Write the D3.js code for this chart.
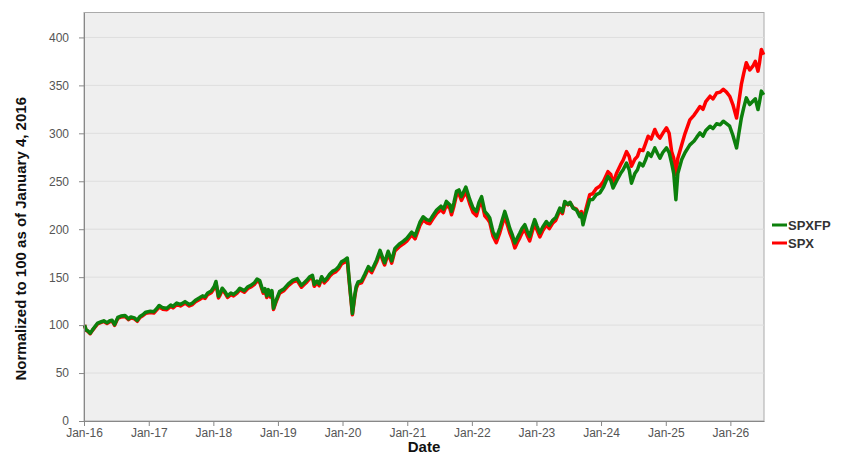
<!DOCTYPE html>
<html>
<head>
<meta charset="utf-8">
<script src="https://cdn.jsdelivr.net/npm/d3@7"></script>
<style>
    body { margin: 0; background: #fff; font-family: "Liberation Sans", Arial, sans-serif; }
    .axis text { font-size: 12px; fill: #555; font-family: "Liberation Sans", Arial, sans-serif; }
    .axis path, .axis line { stroke: #888; }
</style>
</head>
<body>
<div class="chart-wrapper"></div>
<script>
// dates (roughly every 2-4 weeks, plus turning points)
const dates = [
    "2016-01-04","2016-01-13","2016-01-22","2016-02-05","2016-02-18","2016-03-01","2016-03-18","2016-04-08","2016-04-22","2016-05-10",
    "2016-05-26","2016-06-08","2016-06-22","2016-07-10","2016-07-28","2016-08-20","2016-09-09","2016-09-22","2016-10-12","2016-10-28",
    "2016-11-12","2016-11-30","2016-12-15","2017-01-10","2017-01-30","2017-02-14","2017-03-01","2017-03-22","2017-04-13","2017-05-05",
    "2017-05-18","2017-06-08","2017-06-29","2017-07-25","2017-08-18","2017-09-05","2017-09-22","2017-10-15","2017-11-01","2017-11-15",
    "2017-11-30","2017-12-20","2018-01-05","2018-01-16","2018-01-30","2018-02-08","2018-02-20","2018-03-08","2018-03-22","2018-04-10",
    "2018-04-25","2018-05-15","2018-05-31","2018-06-25","2018-07-15","2018-08-01","2018-08-20","2018-09-05","2018-09-20","2018-10-01",
    "2018-10-10","2018-10-20","2018-10-30","2018-11-08","2018-11-20","2018-11-28","2018-12-07","2018-12-20","2019-01-10","2019-02-05",
    "2019-03-01","2019-03-27","2019-04-20","2019-05-14","2019-05-28","2019-06-14","2019-06-30","2019-07-15","2019-07-25","2019-08-10",
    "2019-08-22","2019-09-05","2019-09-20","2019-10-05","2019-10-20","2019-11-05","2019-11-25","2019-12-10","2019-12-26","2020-01-10",
    "2020-01-28","2020-02-07","2020-02-14","2020-02-26","2020-03-10","2020-03-18","2020-03-29","2020-04-17","2020-05-06","2020-05-26",
    "2020-06-14","2020-07-12","2020-07-31","2020-08-18","2020-08-26","2020-09-15","2020-10-05","2020-10-23","2020-11-20","2020-12-10",
    "2020-12-29","2021-01-26","2021-02-14","2021-03-13","2021-04-01","2021-04-20","2021-05-08","2021-05-25","2021-06-16","2021-07-10",
    "2021-07-25","2021-08-10","2021-08-29","2021-09-08","2021-09-22","2021-10-06","2021-10-20","2021-11-03","2021-11-28","2021-12-20",
    "2022-01-08","2022-01-27","2022-02-10","2022-02-25","2022-03-15","2022-04-01","2022-04-12","2022-04-30","2022-05-19","2022-06-08",
    "2022-06-22","2022-07-06","2022-07-20","2022-08-03","2022-08-18","2022-09-01","2022-09-15","2022-09-29","2022-10-12","2022-10-27",
    "2022-11-10","2022-11-24","2022-12-08","2022-12-22","2023-01-05","2023-01-20","2023-02-05","2023-02-26","2023-03-15","2023-04-04",
    "2023-04-20","2023-05-13","2023-05-28","2023-06-10","2023-06-28","2023-07-10","2023-07-27","2023-08-15","2023-09-03","2023-09-12",
    "2023-09-21","2023-10-05","2023-10-19","2023-10-29","2023-11-15","2023-12-05","2023-12-25","2024-01-15","2024-02-09","2024-02-25",
    "2024-03-09","2024-03-28","2024-04-20","2024-05-05","2024-05-24","2024-06-08","2024-06-21","2024-07-10","2024-07-25","2024-08-07",
    "2024-08-25","2024-09-08","2024-09-23","2024-10-10","2024-10-31","2024-11-15","2024-11-29","2024-12-15","2025-01-05","2025-01-20",
    "2025-02-03","2025-02-15","2025-02-27","2025-03-10","2025-04-01","2025-04-20","2025-05-17","2025-06-10","2025-06-25","2025-07-13",
    "2025-07-30","2025-08-15","2025-09-08","2025-09-25","2025-10-15","2025-11-05","2025-11-22","2025-12-10","2025-12-28","2026-01-15",
    "2026-02-05","2026-02-18","2026-03-04","2026-03-18","2026-04-01","2026-04-20","2026-05-08","2026-05-22","2026-06-06","2026-06-15",
    "2026-06-25","2026-07-08"
];

// SPXFP (green)
const spxfp = [
    100,95,94,91.5,95,98,102,103.5,104.5,102.5,
    104.5,105,100.5,108,109.5,110,106.5,108.5,107.5,105,
    109,111,113.5,114.5,114,117,120.5,118,117.5,121,
    119.5,123,121.5,124.5,121.5,123,126,128.5,130.5,129.5,
    133.5,135.5,140,145.5,130,133,138.5,135,130.5,133.5,
    132,135,138.5,136,140,141.5,144,148,146.5,140,
    135,138,130.5,137,131,136,117.5,125,135,138,
    143,147,148.5,141.5,144,147,150.5,152,142.5,146,
    143,150.5,146,149,153,156,158,161,166,167.5,
    170,149,135,112,131,140,145,146,153,161,
    157,168,178,168.5,165,177,167,180,185,187.5,
    190.5,197,193,207,213,210,209,214,220,224,
    221,229,225.5,218.6,228,239.5,241,234,244,231,
    222,218.6,228,234,218.6,215,211.7,197.7,190.8,201,
    210,218.6,210,201,194,185.6,191,196,201,204.7,
    198,192.5,202,210,203,196,202,208,204,209.6,
    212,222,218,229,226,228,222,220,213,216,
    204.7,215,224,230.8,231,236,237.8,244,255,251,
    243,250,258,262,269,262,248,258,262,269,
    266,272,279.6,276,284.8,279,274,280,284.8,280,
    269,258,230.8,258,272.6,280,288,292,296,300.5,
    297,303,307.4,305,310,309,312.6,310,307.4,298,
    284.8,300,316,327,337,330,333.5,336,324.8,333,
    344,340
];

// SPX (red)
const spx = [
    100,94.6,93.5,91,94.5,97.4,101.3,102.8,103.8,101.8,
    103.6,104.2,99.8,107.1,108.5,109,105.6,107.5,106.5,104,
    108,110,112.3,113.2,112.7,115.6,119,116.6,116,119.5,
    118,121.4,120,122.9,120,121.4,124.4,126.8,128.8,127.8,
    131.8,133.8,138.2,143.5,128.3,131.2,136.8,133.3,128.8,131.8,
    130.4,133.3,136.8,134.3,138.2,139.7,142.2,146,144.6,138.2,
    133.3,136.2,128.8,135.2,129.3,134.2,116.3,123.4,133.2,136.2,
    141.1,145,146.5,139.5,142,145,148.4,149.9,140.5,144,
    141,148.4,144,146.9,150.8,153.8,155.8,158.7,163.7,165.2,
    167.6,147,133.3,110.8,129.3,138.1,143.1,144,151,158.8,
    154.8,165.7,175.5,166.1,162.7,174.5,164.6,177.4,182.3,184.7,
    187.6,194,190,203.8,209.7,206.7,205.7,210.6,216.5,220.4,
    217.4,225.3,221.8,215,224.3,235.6,237,230,239.5,226.5,
    217.4,214,223.3,229.2,214,210.4,207.2,193,186,196.2,
    205.2,213.6,205,196.2,189.3,180.5,186.2,191,196.2,199.8,
    193.2,187.8,197.3,205.5,198.8,192,198.2,204.4,200.6,206.6,
    209.2,219.8,216.2,227.8,225.4,227.8,222.5,221,215,218.5,
    208,219,229,236,237,242.5,244.7,250,260,257,
    248,258,267,272,281,276,265.6,273,276,283,
    282,289,297,294,304,298,295,300,305.7,300,
    281,274,257,274,288,300,314,319,323,328,
    325,333,338.7,336,342,343,346,343,338.7,330,
    316,333,351,363,373.6,366,370,375,364.8,374,
    387.5,382
];

// axis ticks and legend
const yTicks = [0, 50, 100, 150, 200, 250, 300, 350, 400];
const seriesNames = ["SPXFP", "SPX"];
const seriesColors = ["#0c800c", "#ff0000"];

function setChart() {
    const svgWidth = 845;
    const svgHeight = 456;
    const margin = { top: 12.5, right: 81, bottom: 35, left: 84 };
    const innerWidth = svgWidth - margin.left - margin.right;
    const innerHeight = svgHeight - margin.top - margin.bottom;

    const parseDate = d3.timeParse("%Y-%m-%d");
    const data = dates.map((d, i) => ({ date: parseDate(d), g: spxfp[i], r: spx[i] }));

    const svg = d3.select(".chart-wrapper")
        .append("svg")
        .attr("width", svgWidth)
        .attr("height", svgHeight);

    const chart = svg.append("g")
        .attr("transform", `translate(${margin.left},${margin.top})`);

    // scales
    const xScale = d3.scaleTime()
        .domain([new Date(2016, 0, 1), new Date(2026, 6, 10)])
        .range([0, innerWidth]);

    const yScale = d3.scaleLinear()
        .domain([0, 426])
        .range([innerHeight, 0]);

    // plot background
    chart.append("rect")
        .attr("width", innerWidth)
        .attr("height", innerHeight)
        .attr("fill", "#efefef")
        .attr("stroke", "#aaa")
        .attr("stroke-width", 1);

    // horizontal grid lines
    chart.selectAll(".grid")
        .data(yTicks.slice(1))
        .enter()
        .append("line")
        .attr("x1", 0)
        .attr("x2", innerWidth)
        .attr("y1", d => yScale(d))
        .attr("y2", d => yScale(d))
        .attr("stroke", "#dedede")
        .attr("stroke-width", 1);

    // lines, red underneath green
    const lineR = d3.line().x(d => xScale(d.date)).y(d => yScale(d.r));
    const lineG = d3.line().x(d => xScale(d.date)).y(d => yScale(d.g));

    chart.append("path")
        .datum(data)
        .attr("d", lineR)
        .attr("fill", "none")
        .attr("stroke", seriesColors[1])
        .attr("stroke-width", 3.5)
        .attr("stroke-linejoin", "round");

    chart.append("path")
        .datum(data)
        .attr("d", lineG)
        .attr("fill", "none")
        .attr("stroke", seriesColors[0])
        .attr("stroke-width", 3.5)
        .attr("stroke-linejoin", "round");

    // x axis
    chart.append("g")
        .attr("class", "axis")
        .attr("transform", `translate(0,${innerHeight})`)
        .call(d3.axisBottom(xScale)
            .ticks(d3.timeYear.every(1))
            .tickFormat(d3.timeFormat("%b-%y"))
            .tickSize(5)
            .tickPadding(2)
            .tickSizeOuter(0));

    // y axis
    chart.append("g")
        .attr("class", "axis")
        .call(d3.axisLeft(yScale)
            .tickValues(yTicks)
            .tickSize(5)
            .tickPadding(10)
            .tickSizeOuter(0));

    // axis titles
    svg.append("text")
        .attr("x", margin.left + innerWidth / 2)
        .attr("y", 452)
        .attr("text-anchor", "middle")
        .style("font-size", "15px")
        .style("font-weight", "bold")
        .style("fill", "#111")
        .text("Date");

    svg.append("text")
        .attr("transform", `translate(26,${margin.top + innerHeight / 2 + 22}) rotate(-90)`)
        .attr("text-anchor", "middle")
        .style("font-size", "15px")
        .style("font-weight", "bold")
        .style("fill", "#111")
        .text("Normalized to 100 as of January 4, 2016");

    // legend
    const legend = svg.append("g")
        .attr("transform", "translate(772,225)");

    seriesNames.forEach((name, i) => {
        legend.append("line")
            .attr("x1", 0)
            .attr("x2", 15)
            .attr("y1", i * 18)
            .attr("y2", i * 18)
            .attr("stroke", seriesColors[i])
            .attr("stroke-width", 3);
        legend.append("text")
            .attr("x", 16)
            .attr("y", i * 18 + 4.5)
            .style("font-size", "13px")
            .style("font-weight", "bold")
            .style("fill", "#333")
            .text(name);
    });
}

setChart();
</script>
</body>
</html>
